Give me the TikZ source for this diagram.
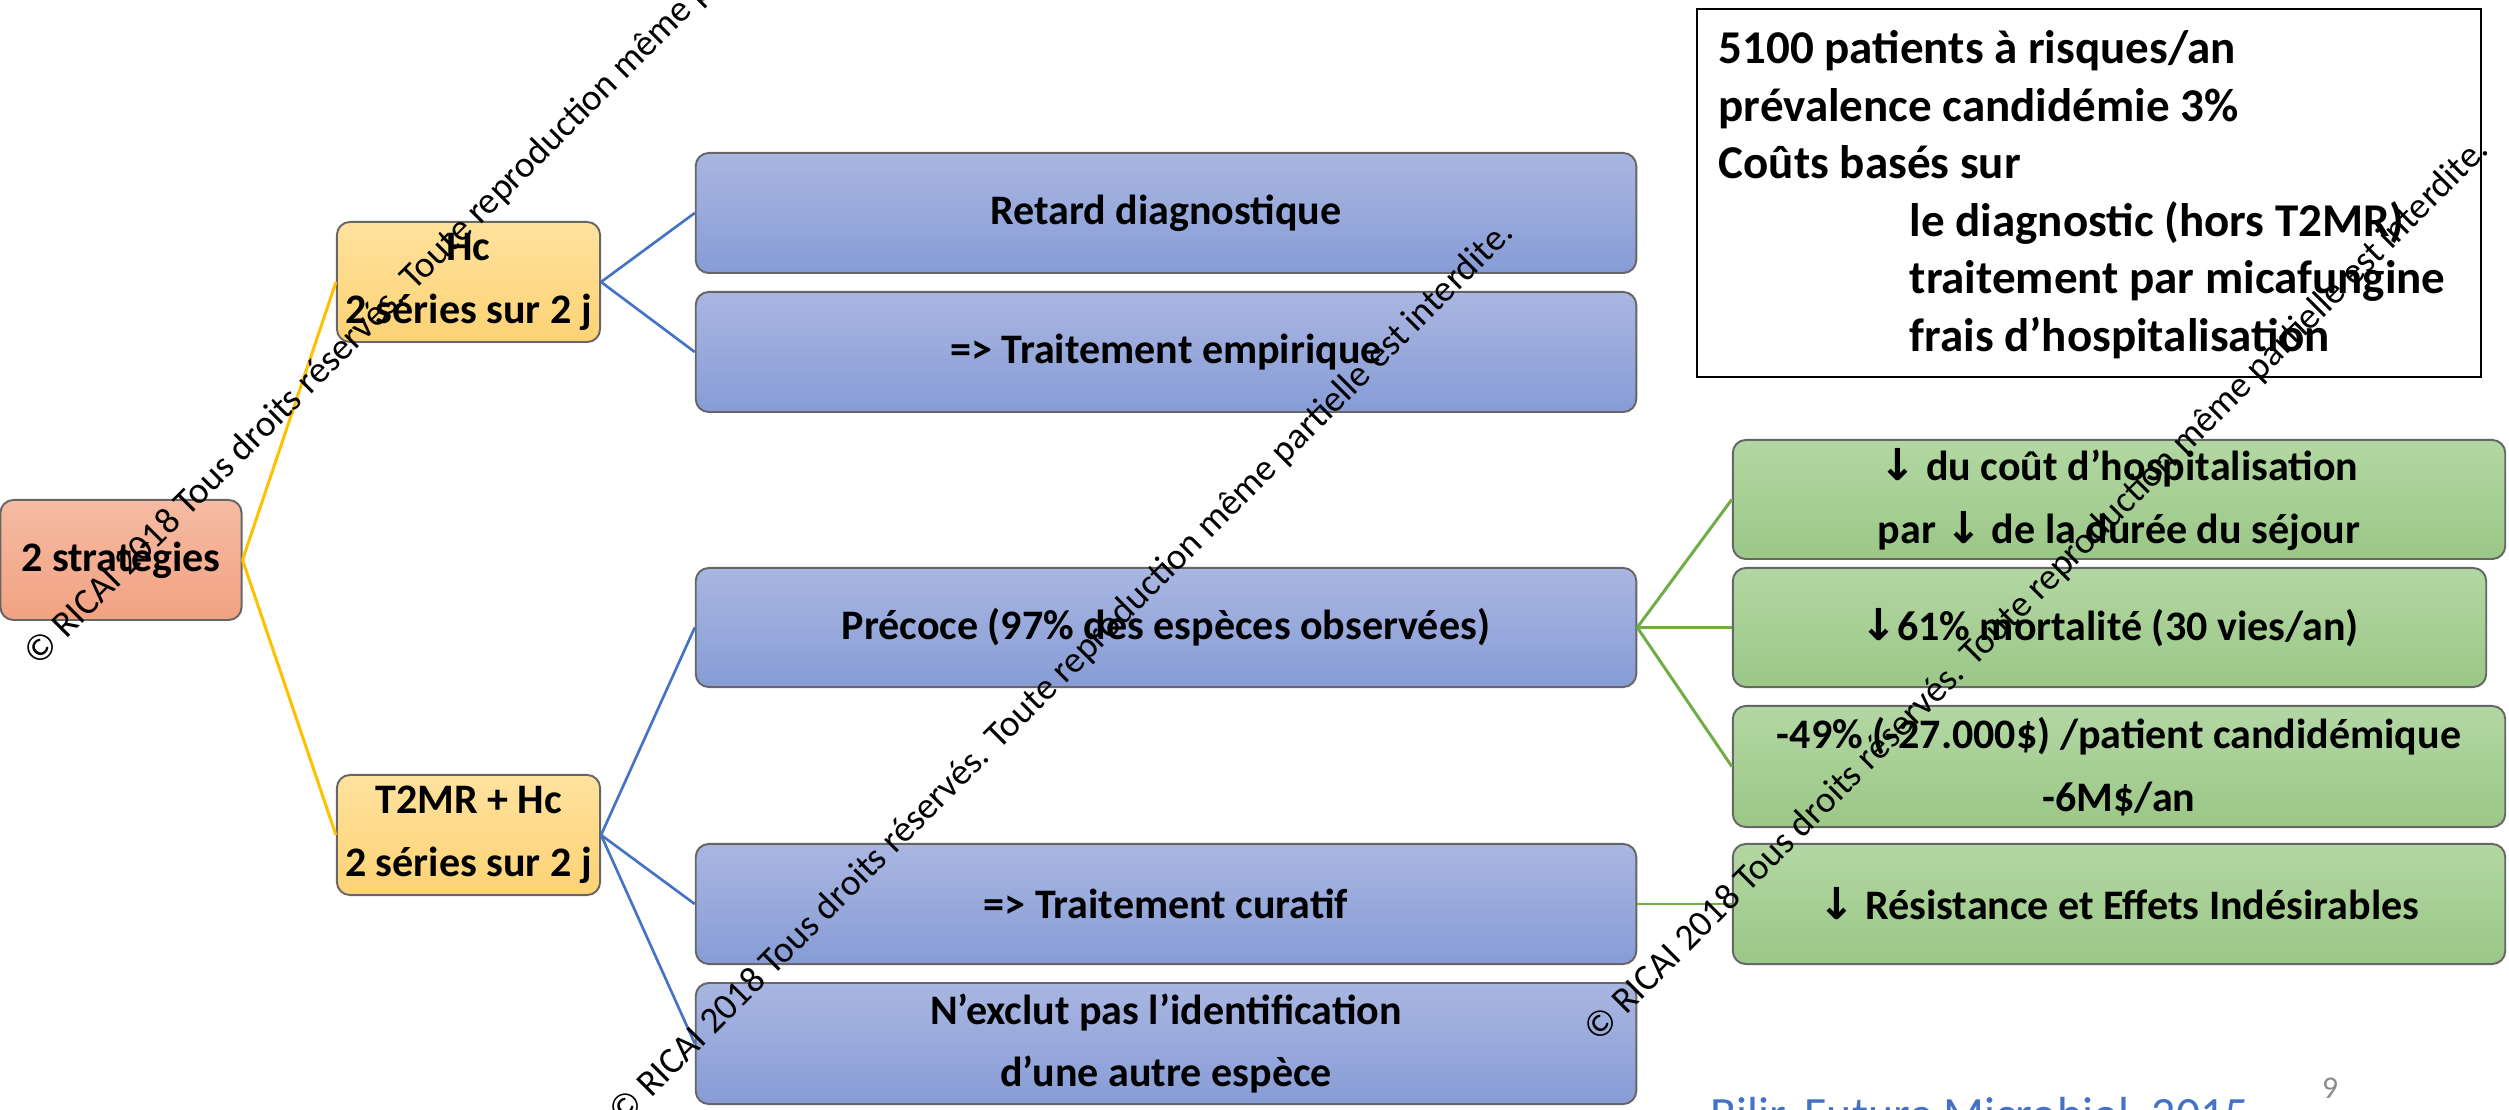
\documentclass[tikz,border=0pt]{standalone}
\usepackage{fontspec}
\usepackage{graphicx}
\setmainfont{Carlito}
\newfontfamily\arrowfont{DejaVu Sans}
\newcommand\bxfont{\fontsize{11.95}{17.9}\selectfont\bfseries}
\newcommand\infofont{\fontsize{13.37}{16.4}\selectfont\bfseries}
\newcommand\dn{{\arrowfont\bfseries\fontsize{12.5}{17.9}\selectfont ↓}}
\newcommand\rightsnote{© RICAI 2018 Tous droits réservés. Toute reproduction même partielle est interdite.}
\definecolor{rootT}{HTML}{F5BBA3}
\definecolor{rootB}{HTML}{F2A282}
\definecolor{yelT}{HTML}{FFE29E}
\definecolor{yelB}{HTML}{FDD274}
\definecolor{bluT}{HTML}{A9B6E1}
\definecolor{bluB}{HTML}{879CD6}
\definecolor{grnT}{HTML}{B3D7A3}
\definecolor{grnB}{HTML}{9BC787}
\definecolor{linkO}{HTML}{FFC000}
\definecolor{linkB}{HTML}{4472C4}
\definecolor{linkG}{HTML}{70AD47}
\definecolor{citeblue}{HTML}{4472C4}
\begin{document}
\begin{tikzpicture}[x=0.01cm,y=-0.01cm,
  box/.style={rounded corners=0.13cm, draw=black!60, line width=0.55pt,
              inner sep=0pt, align=center, font=\bxfont},
  rootbox/.style={box, top color=rootT, bottom color=rootB},
  yelbox/.style={box, top color=yelT, bottom color=yelB,
                 minimum width=2.63cm, minimum height=1.2cm},
  blubox/.style={box, top color=bluT, bottom color=bluB,
                 minimum width=9.4cm, minimum height=1.2cm},
  grnbox/.style={box, top color=grnT, bottom color=grnB,
                 minimum width=7.72cm, minimum height=1.2cm},
  olink/.style={draw=linkO, line width=0.85pt},
  blink/.style={draw=linkB, line width=0.75pt},
  glink/.style={draw=linkG, line width=0.85pt},
  infoline/.style={anchor=base west, inner sep=0pt, font=\infofont},
  wmark/.style={anchor=base west, inner sep=0pt, text=black, rotate=45},
]
\useasboundingbox (0,0) rectangle (2509,1110);
\fill[white] (0,0) rectangle (2509,1110);

% root and the two strategies
\node[rootbox, minimum width=2.41cm, minimum height=1.2cm] (root) at (121,560) {2 stratégies};
\node[yelbox] (hc) at (468.5,282) {Hc\\2 séries sur 2 j};
\node[yelbox] (t2) at (468.5,835) {T2MR + Hc\\2 séries sur 2 j};

% consequences of each strategy
\node[blubox] (retard) at (1166,213) {Retard diagnostique};
\node[blubox] (empir) at (1166,352) {=> Traitement empirique};
\node[blubox, minimum height=1.19cm] (precoce) at (1166,627.5) {Précoce (97\% des espèces observées)};
\node[blubox] (curatif) at (1166,904) {=> Traitement curatif};
\node[blubox, minimum height=1.21cm] (nexclut) at (1166,1043.5) {N’exclut pas l’identification\\d’une autre espèce};

% outcomes
\node[grnbox, minimum height=1.19cm] (g1) at (2119,499.5) {\dn{} du coût d’hospitalisation\\par \dn{} de la durée du séjour};
\node[grnbox, minimum width=7.53cm, minimum height=1.19cm] (g2) at (2109.5,627.5) {\dn61\% mortalité (30 vies/an)};
\node[grnbox, minimum height=1.21cm] (g3) at (2119,766.5) {-49\% (-27.000\$) /patient candidémique\\-6M\$/an};
\node[grnbox] (g4) at (2119,904) {\dn{} Résistance et Effets Indésirables};

% connectors
\draw[olink] (root.east) -- (hc.west);
\draw[olink] (root.east) -- (t2.west);
\draw[blink] (hc.east) -- (retard.west);
\draw[blink] (hc.east) -- (empir.west);
\draw[blink] (t2.east) -- (precoce.west);
\draw[blink] (t2.east) -- (curatif.west);
\draw[blink] (t2.east) -- (nexclut.west);
\draw[glink] (precoce.east) -- (g1.west);
\draw[glink] (precoce.east) -- (g2.west);
\draw[glink] (precoce.east) -- (g3.west);
\draw[glink] (curatif.east) -- (g4.west);

% assumptions box
\node[draw=black, line width=0.6pt, fill=white, minimum width=7.84cm, minimum height=3.68cm,
      inner sep=0pt] (info) at (2089,193) {};
\node[infoline] (i1) at (1718,64) {5100 patients à risques/an};
\node[infoline] (i2) at (1718,122) {prévalence candidémie 3\%};
\node[infoline] (i3) at (1718,179) {Coûts basés sur};
\node[infoline] (i4) at (1909,237) {le diagnostic (hors T2MR)};
\node[infoline] (i5) at (1909,294) {traitement par micafungine};
\node[infoline] (i6) at (1909,352) {frais d’hospitalisation};

% reference and slide number
\node[anchor=base west, inner sep=0pt, text=citeblue, font=\fontsize{13.6}{16}\selectfont]
  (cite) at (1710,1130) {Bilir, Future Microbiol, 2015};
\node[inner sep=0pt, text=black!45, font=\fontsize{9}{10}\selectfont] (pg) at (2330,1088) {9};

% copyright marks
\node[wmark] (wm1) at (38,668) {\resizebox{12.6cm}{!}{\rightsnote}};
\node[wmark] (wm2) at (623,1127) {\resizebox{12.6cm}{!}{\rightsnote}};
\node[wmark] (wm3) at (1598,1044) {\resizebox{12.6cm}{!}{\rightsnote}};
\end{tikzpicture}
\end{document}
